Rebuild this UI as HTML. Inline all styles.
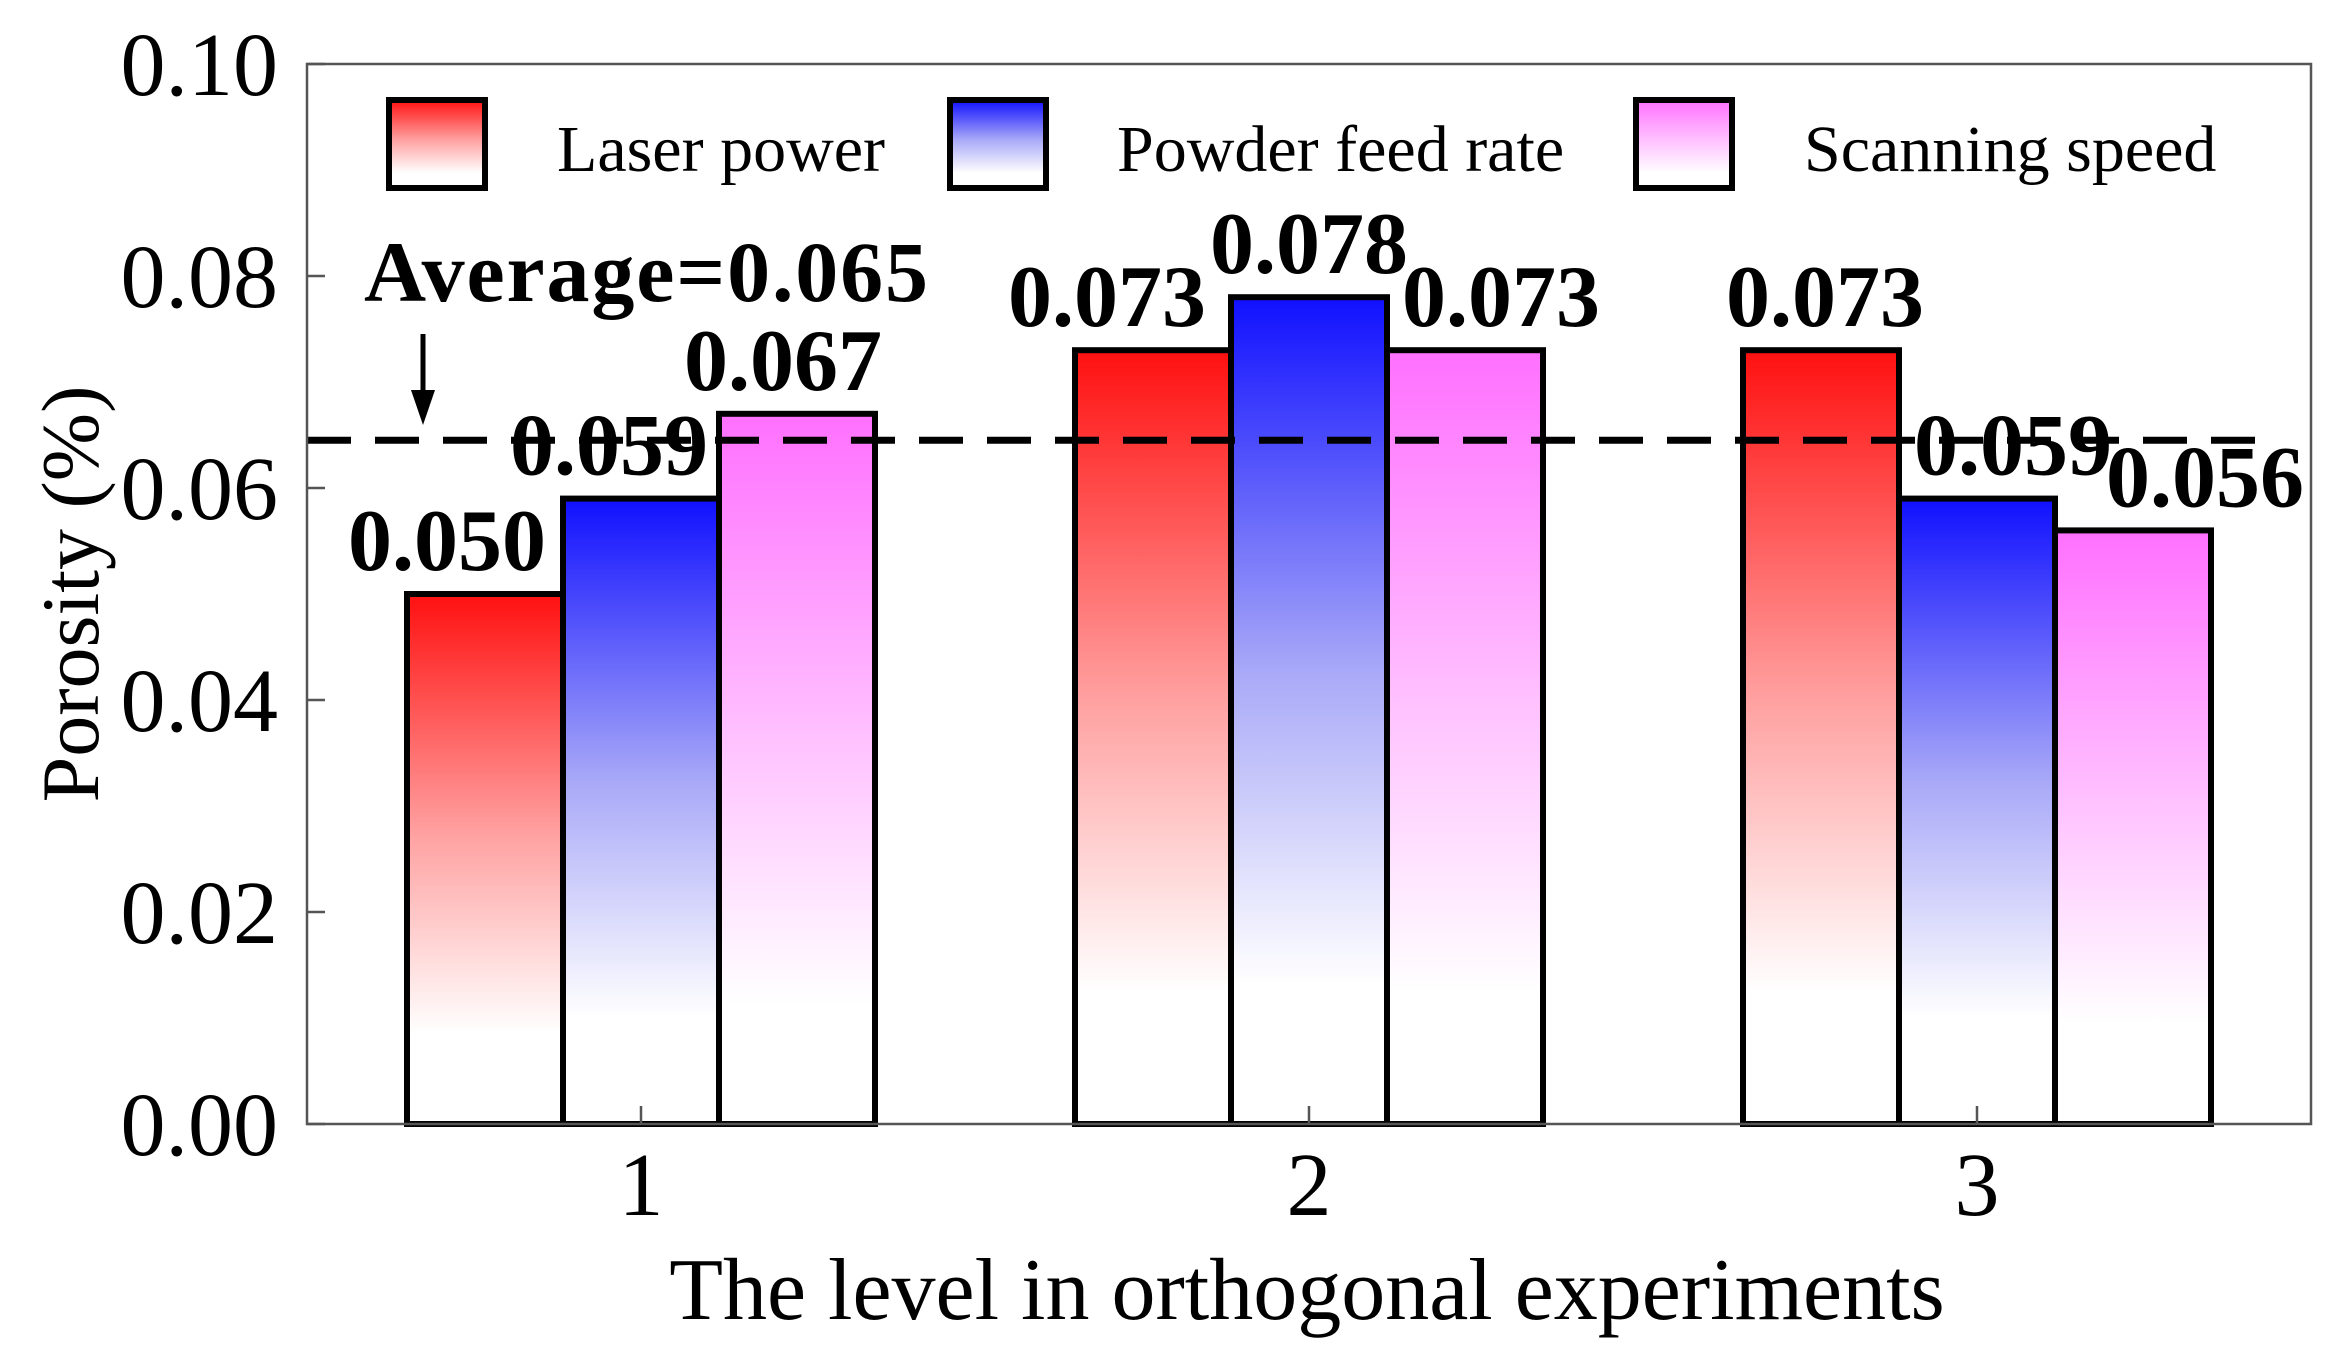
<!DOCTYPE html>
<html><head><meta charset="utf-8"><style>
html,body{margin:0;padding:0;background:#fff;}
svg{display:block;font-family:"Liberation Serif",serif;}
</style></head><body>
<svg id="chart" width="2328" height="1361" viewBox="0 0 2328 1361">
<defs>
<linearGradient id="gRed" x1="0" y1="0" x2="0" y2="1"><stop offset="0" stop-color="#ff1010"/><stop offset="0.45" stop-color="#ffa0a0"/><stop offset="0.83" stop-color="#ffffff"/><stop offset="1" stop-color="#ffffff"/></linearGradient>
<linearGradient id="gBlue" x1="0" y1="0" x2="0" y2="1"><stop offset="0" stop-color="#1010ff"/><stop offset="0.45" stop-color="#a8a8f8"/><stop offset="0.83" stop-color="#ffffff"/><stop offset="1" stop-color="#ffffff"/></linearGradient>
<linearGradient id="gPink" x1="0" y1="0" x2="0" y2="1"><stop offset="0" stop-color="#ff70ff"/><stop offset="0.45" stop-color="#ffc0ff"/><stop offset="0.83" stop-color="#ffffff"/><stop offset="1" stop-color="#ffffff"/></linearGradient>
</defs>
<g id="bars"></g>
<g id="labels"></g>
<rect x="307" y="64" width="2004" height="1060" fill="none" stroke="#555" stroke-width="2.5"/>
<g id="axes"></g>
<g>
<rect x="389" y="100" width="96" height="88" fill="url(#gRed)" stroke="#000" stroke-width="6"/>
<text x="557" y="171" font-size="66">Laser power</text>
<rect x="950" y="100" width="96" height="88" fill="url(#gBlue)" stroke="#000" stroke-width="6"/>
<text x="1117" y="171" font-size="66">Powder feed rate</text>
<rect x="1636" y="100" width="96" height="88" fill="url(#gPink)" stroke="#000" stroke-width="6"/>
<text x="1804" y="171" font-size="66">Scanning speed</text>
</g>
<text x="364" y="301" font-size="86" font-weight="bold" textLength="564">Average=0.065</text>
<g>
<line x1="423" y1="334" x2="423" y2="395" stroke="#000" stroke-width="5"/>
<polygon points="411,390 435,390 423,425" fill="#000"/>
</g>
<text x="1307" y="1319" font-size="88" text-anchor="middle">The level in orthogonal experiments</text>
<text transform="translate(98,594) rotate(-90)" font-size="82" text-anchor="middle">Porosity (%)</text>
</svg>
<script>
const categories = ["1", "2", "3"];
const seriesNames = ["Laser power", "Powder feed rate", "Scanning speed"];
const laserPower = [0.050, 0.073, 0.073];
const powderFeedRate = [0.059, 0.078, 0.059];
const scanningSpeed = [0.067, 0.073, 0.056];
const valueLabels = [["0.050","0.073","0.073"],["0.059","0.078","0.059"],["0.067","0.073","0.056"]];
const yTicks = [0, 0.02, 0.04, 0.06, 0.08, 0.10];
const yTickLabels = ["0.00","0.02","0.04","0.06","0.08","0.10"];
const averageValue = 0.0645;

const NS = "http://www.w3.org/2000/svg";
const plotL = 307, plotR = 2311, plotT = 64, plotB = 1124;
const yMax = 0.10;
const y = v => plotB - v / yMax * (plotB - plotT);
const band = (plotR - plotL) / categories.length;
const xc = i => plotL + band * (i + 0.5);
const barW = 156;
const series = [laserPower, powderFeedRate, scanningSpeed];
const fills = ["url(#gRed)", "url(#gBlue)", "url(#gPink)"];
const labelDx = [[-38, -46, 4], [-32, 0, 36], [-14, 36, 72]];
function mk(tag, attrs, parent) {
  const e = document.createElementNS(NS, tag);
  for (const k in attrs) e.setAttribute(k, attrs[k]);
  parent.appendChild(e);
  return e;
}
const gBars = document.getElementById("bars");
const gLab = document.getElementById("labels");
const gAx = document.getElementById("axes");
series.forEach((vals, s) => {
  vals.forEach((v, i) => {
    const x = xc(i) + (s - 1) * barW - barW / 2;
    const r = mk("rect", {x: x, y: y(v), width: barW, height: plotB - y(v), fill: fills[s], stroke: "#000", "stroke-width": 6}, gBars);
    
    
    const t = mk("text", {x: xc(i) + (s - 1) * barW + labelDx[s][i], y: y(v) - 24, "font-size": 88, "font-weight": "bold", "text-anchor": "middle"}, gLab);
    t.textContent = valueLabels[s][i];
    
    
  });
});
const avg = mk("line", {x1: plotL, x2: 2264, y1: y(averageValue), y2: y(averageValue), stroke: "#000", "stroke-width": 7, "stroke-dasharray": "44 24"}, gLab);


yTicks.forEach((v, k) => {
  const ln = mk("line", {x1: plotL, x2: plotL + 18, y1: y(v), y2: y(v), stroke: "#555", "stroke-width": 2.5}, gAx);
  
  
  const t = mk("text", {x: 278, y: y(v) + 31, "font-size": 90, "text-anchor": "end"}, gAx);
  t.textContent = yTickLabels[k];
  
  
});
categories.forEach((c, i) => {
  const ln = mk("line", {x1: xc(i), x2: xc(i), y1: plotB, y2: plotB - 18, stroke: "#555", "stroke-width": 2.5}, gAx);
  
  
  const t = mk("text", {x: xc(i), y: 1215, "font-size": 90, "text-anchor": "middle"}, gAx);
  t.textContent = c;
  
  
});
</script>
</body></html>
